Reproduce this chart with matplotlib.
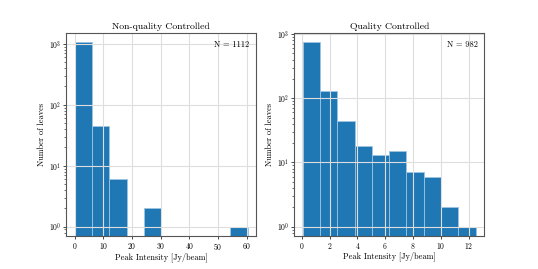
#!/usr/bin/env python3
"""Peak intensity histograms, before and after quality control."""

import matplotlib
import numpy as np

matplotlib.use("Agg")
import matplotlib.pyplot as plt

# bin edges (Jy/beam) and counts per bin
RAW_EDGES = np.linspace(0.05, 60.3, 11)
RAW_COUNTS = [1058, 45, 6, 0, 2, 0, 0, 0, 0, 1]
RAW_N = 1112

QC_EDGES = np.linspace(0.07, 12.5, 11)
QC_COUNTS = [743, 132, 45, 18, 13, 15, 7, 6, 2, 1]
QC_N = 982

RAW_XTICKS = [0, 10, 20, 30, 40, 50, 60]
QC_XTICKS = [0, 2, 4, 6, 8, 10, 12]

BAR = "#1f77b4"
EDGE = "#9ec4e2"

plt.rcParams.update({
    "font.family": "serif",
    "font.serif": ["cmr10"],
    "mathtext.fontset": "cm",
    "axes.formatter.use_mathtext": True,
    "font.size": 6,
})


def draw(ax, edges, counts, n, title, xticks):
    centers = 0.5 * (edges[:-1] + edges[1:])
    ax.hist(centers, bins=edges, weights=counts, log=True,
            color=BAR, edgecolor=EDGE, linewidth=0.6)
    ax.set_title(title, fontsize=7, pad=3)
    ax.set_xlabel("Peak Intensity [Jy/beam]", fontsize=6, labelpad=0.5)
    ax.set_ylabel("Number of leaves", fontsize=6, labelpad=2)
    ax.set_xticks(xticks)
    ax.grid(True, which="major", color="#dedede", linewidth=0.8)
    ax.tick_params(labelsize=5.5, pad=1, length=2.5, width=0.5)
    ax.tick_params(which="minor", length=1.5, width=0.4)
    for spine in ax.spines.values():
        spine.set_color("#555555")
        spine.set_linewidth(0.8)
    ax.text(0.965, 0.965, f"N = {n}", transform=ax.transAxes,
            ha="right", va="top", fontsize=6)


fig, (ax1, ax2) = plt.subplots(1, 2, figsize=(5.38, 2.69), dpi=100)
fig.subplots_adjust(left=0.123, right=0.9, bottom=0.123, top=0.877, wspace=0.2)

draw(ax1, RAW_EDGES, RAW_COUNTS, RAW_N, "Non-quality Controlled", RAW_XTICKS)
draw(ax2, QC_EDGES, QC_COUNTS, QC_N, "Quality Controlled", QC_XTICKS)

fig.savefig("out.png", facecolor="white")
